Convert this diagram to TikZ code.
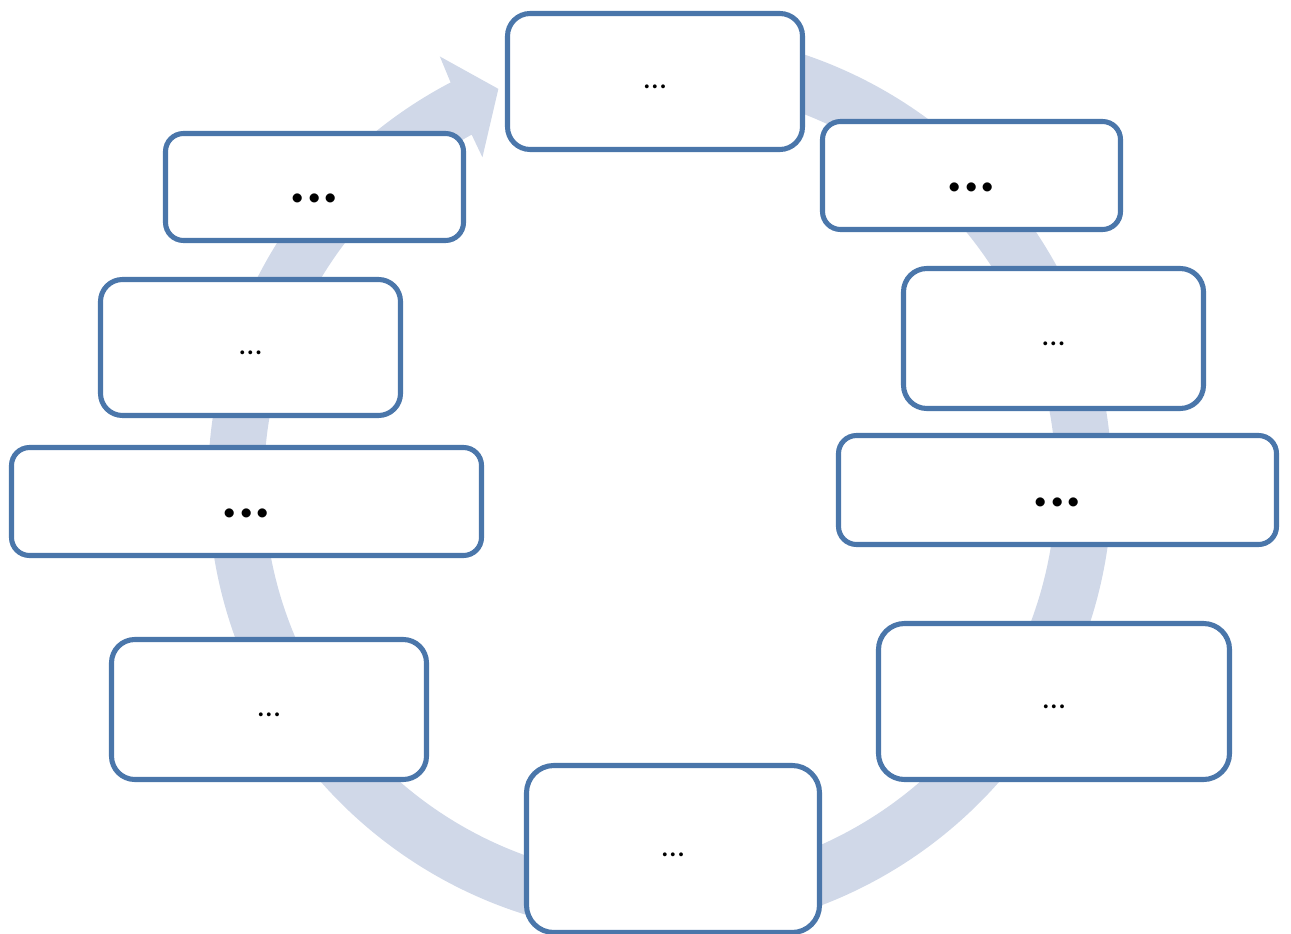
\documentclass[tikz,border=0pt]{standalone}
\usepackage{fontspec}
\setmainfont{Carlito}
\tikzset{every picture/.style={line width=0.75pt}}
\definecolor{boxblue}{RGB}{74,118,170}
\definecolor{ringblue}{RGB}{208,216,232}
\tikzset{
  stepbox/.style={draw=boxblue,fill=white,line width=3.8pt,inner sep=0pt},
  smalldots/.style={font=\fontsize{24}{28}\selectfont,text height=11.2pt,text depth=0pt},
  bigdots/.style={font=\fontsize{46}{52}\selectfont\bfseries,text height=24pt,text depth=0pt}
}
\begin{document}
\begin{tikzpicture}[x=0.75pt,y=0.75pt,yscale=-1,xscale=1]
	%set diagram to the size of the picture
	\useasboundingbox (0,0) rectangle (1291,934);

	%ring with arrow head, center (660,483)
	\begin{scope}[shift={(660,483)},yscale=-1]
	\fill [ringblue] (95:452) arc [start angle=95, end angle=-242.4, radius=452] -- (-242.7:480) -- (-247.7:426) -- (-241.4:371) -- (-241.6:396) arc [start angle=-241.6, end angle=95, radius=396] -- cycle;
	\end{scope}

	%boxes, clockwise from the top (sizes: outer size minus 5)
	\node [stepbox,smalldots,minimum width=295*0.75pt,minimum height=136*0.75pt,rounded corners=17pt] (s1) at (655,81.5) {...};
	\node [stepbox,bigdots,minimum width=298*0.75pt,minimum height=108*0.75pt,rounded corners=13.5pt] (s2) at (971.5,175.5) {...};
	\node [stepbox,smalldots,minimum width=300*0.75pt,minimum height=140*0.75pt,rounded corners=17.5pt] (s3) at (1053.5,338.5) {...};
	\node [stepbox,bigdots,minimum width=438*0.75pt,minimum height=109*0.75pt,rounded corners=13.5pt] (s4) at (1057.5,490) {...};
	\node [stepbox,smalldots,minimum width=351*0.75pt,minimum height=156*0.75pt,rounded corners=19.5pt] (s5) at (1054,701.5) {...};
	\node [stepbox,smalldots,minimum width=293*0.75pt,minimum height=167*0.75pt,rounded corners=20.5pt] (s6) at (673,849) {...};
	\node [stepbox,smalldots,minimum width=315*0.75pt,minimum height=140*0.75pt,rounded corners=17.5pt] (s7) at (269,709.5) {...};
	\node [stepbox,bigdots,minimum width=470*0.75pt,minimum height=108*0.75pt,rounded corners=13.5pt] (s8) at (246.5,501.5) {...};
	\node [stepbox,smalldots,minimum width=300*0.75pt,minimum height=136*0.75pt,rounded corners=16.5pt] (s9) at (250.5,347.5) {...};
	\node [stepbox,bigdots,minimum width=298*0.75pt,minimum height=107*0.75pt,rounded corners=13.5pt] (s10) at (314.5,187) {...};

\end{tikzpicture}
\end{document}
